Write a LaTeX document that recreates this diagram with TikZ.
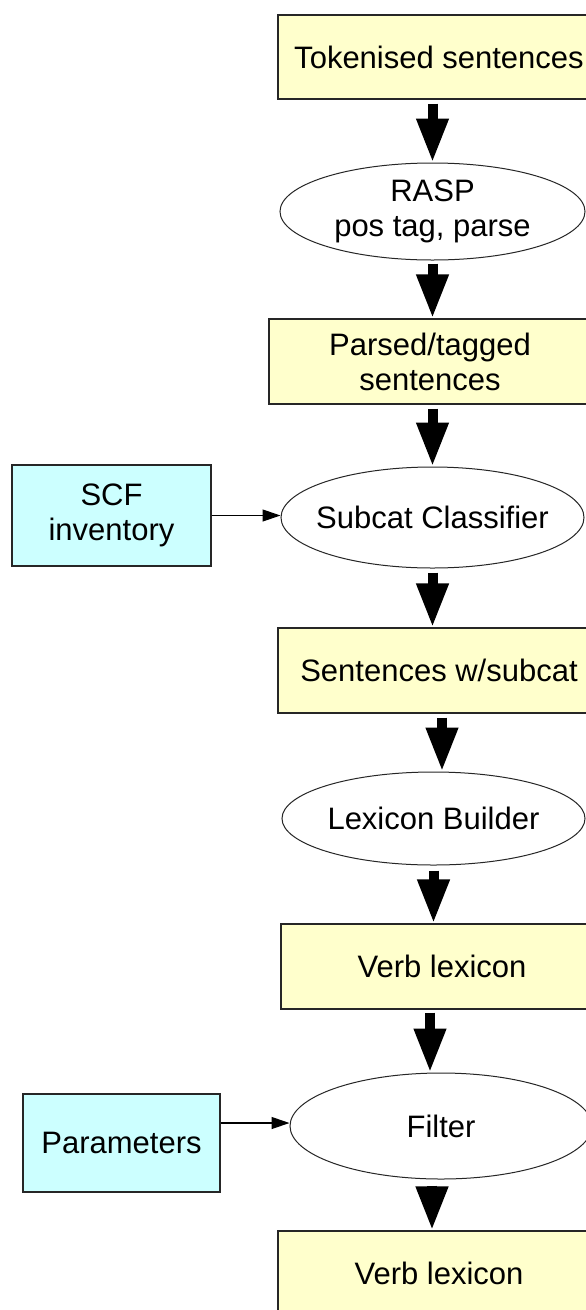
\documentclass[tikz,border=0pt]{standalone}
\usepackage{fontspec}
\setmainfont{Liberation Sans}
\usetikzlibrary{arrows.meta,shapes.geometric,calc}
\definecolor{boxyellow}{HTML}{FFFFCC}
\definecolor{boxcyan}{HTML}{CCFFFF}
\begin{document}
\begin{tikzpicture}[x=1pt,y=-1pt,
  every node/.style={font=\fontsize{31}{35}\selectfont, align=center, inner sep=0pt},
  ybox/.style={draw=black!85, line width=1.2pt, fill=boxyellow, rectangle},
  cbox/.style={draw=black!85, line width=1.2pt, fill=boxcyan, rectangle},
  proc/.style={draw=black!85, line width=1pt, fill=white, ellipse},
  bigarrow/.style={line width=10pt, line cap=butt, -{Triangle[length=44pt,width=30pt]}},
  thinarrow/.style={line width=1.2pt, -{Triangle[length=18pt,width=12pt]}}]
\useasboundingbox (0,0) rectangle (586,1310);
\clip (0,0) rectangle (586,1310);
\fill[white] (0,0) rectangle (586,1310);

\node[ybox, minimum width=322pt, minimum height=84pt] (tok) at (439,57) {Tokenised sentences};
\node[proc, minimum width=305pt, minimum height=97pt] (rasp) at (432.5,211.5) {RASP\\pos tag, parse};
\node[ybox, minimum width=322pt, minimum height=85pt] (parsed) at (430,361.5) {Parsed/tagged\\sentences};
\node[proc, inner xsep=-30pt, minimum width=303pt, minimum height=101pt] (subcat) at (432.5,517.5) {Subcat Classifier};
\node[cbox, minimum width=199pt, minimum height=101pt] (scf) at (111.5,515.5) {SCF\\inventory};
\node[ybox, minimum width=322pt, minimum height=85pt] (sws) at (439,670.5) {Sentences w/subcat};
\node[proc, inner xsep=-20pt, minimum width=303pt, minimum height=93pt] (lex) at (433.5,818.5) {Lexicon Builder};
\node[ybox, minimum width=322pt, minimum height=85pt] (vl1) at (442,966.5) {Verb lexicon};
\node[proc, minimum width=302pt, minimum height=106pt] (filter) at (441,1126) {Filter};
\node[cbox, minimum width=197pt, minimum height=98pt] (params) at (121.5,1143) {Parameters};
\node[ybox, minimum width=322pt, minimum height=85pt] (vl2) at (439,1273.5) {Verb lexicon};

% thick arrows
\draw[bigarrow] ($(tok.south -| rasp.north)+(0,4)$) -- (rasp.north);
\draw[bigarrow] ($(rasp.south)+(0,3)$) -- (rasp.south |- parsed.north);
\draw[bigarrow] ($(parsed.south -| subcat.north)+(0,4)$) -- (subcat.north);
\draw[bigarrow] ($(subcat.south)+(0,4)$) -- (subcat.south |- sws.north);
\coordinate (a5) at ($(sws.south)+(3,0)$);
\draw[bigarrow] ($(a5)+(0,4)$) -- (a5 |- lex.north);
\draw[bigarrow] ($(lex.south)+(0,5)$) -- (lex.south |- vl1.north);
\coordinate (a7) at ($(vl1.south)+(-12,0)$);
\draw[bigarrow] ($(a7)+(0,3)$) -- (a7 |- filter.north);
\coordinate (a8) at ($(filter.south)+(-9,0)$);
\draw[bigarrow] ($(a8)+(0,6)$) -- (a8 |- vl2.north);

% thin arrows
\draw[thinarrow] (scf.east) -- (scf.east -| subcat.west);
\coordinate (p1) at ($(params.east)+(0,-20)$);
\draw[thinarrow] (p1) -- (p1 -| filter.west);
\end{tikzpicture}
\end{document}
